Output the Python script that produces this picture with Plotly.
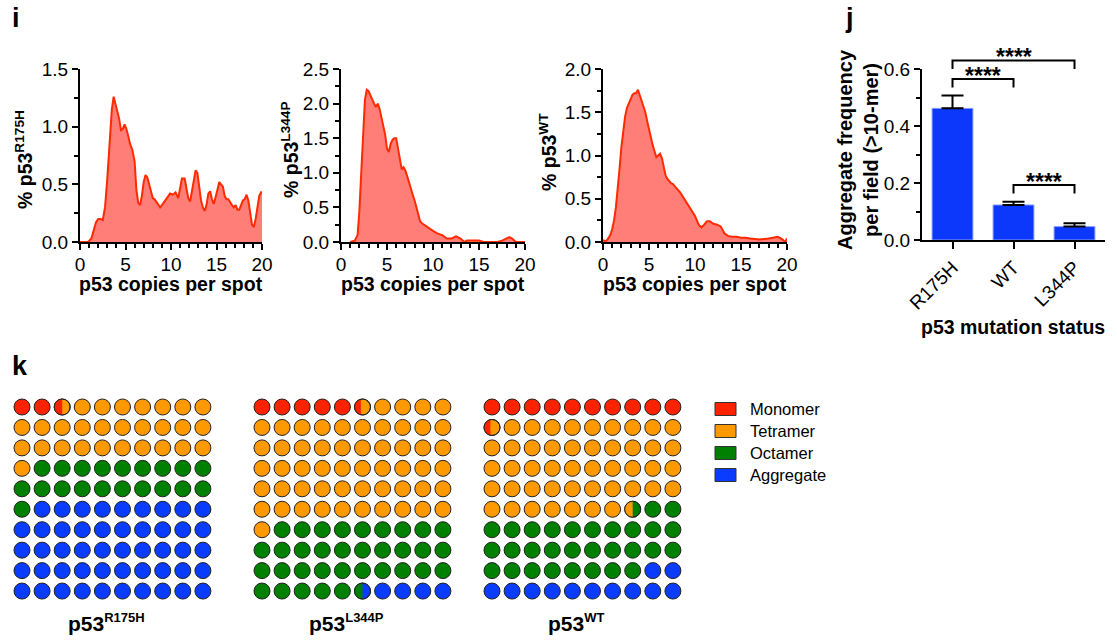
import numpy as np
import plotly.graph_objects as go

W, H = 1117, 640
FONT = "Liberation Sans, Arial, Helvetica, sans-serif"

# ---------------- DATA ----------------
# Histogram p53 R175H
r175h_x = [0, 0.9, 1.0, 1.25, 1.5, 1.75, 2.0, 2.25, 2.5, 2.75, 3.0, 3.25, 3.5, 3.7, 3.9, 4.1, 4.3, 4.5, 4.7, 4.9,
           5.1, 5.3, 5.5, 5.75, 6.0, 6.2, 6.4, 6.6, 6.8, 7.0, 7.2, 7.4, 7.6, 7.8, 8.0, 8.2, 8.4, 8.6, 8.8, 9.0,
           9.3, 9.6, 9.9, 10.2, 10.5, 10.8, 11.0, 11.2, 11.5, 11.7, 11.9, 12.1, 12.3, 12.5, 12.7, 12.9, 13.1, 13.3,
           13.5, 13.7, 13.9, 14.1, 14.3, 14.5, 14.7, 14.9, 15.1, 15.3, 15.5, 15.7, 15.9, 16.1, 16.3, 16.5, 16.7,
           16.9, 17.1, 17.3, 17.5, 17.7, 17.9, 18.1, 18.3, 18.5, 18.7, 18.9, 19.1, 19.3, 19.5, 19.7, 19.9, 20.0]
r175h_y = [0, 0.0, 0.01, 0.03, 0.10, 0.17, 0.20, 0.20, 0.19, 0.30, 0.55, 0.85, 1.15, 1.26, 1.20, 1.12, 1.07, 0.97, 0.98, 1.02,
           0.98, 0.92, 0.85, 0.80, 0.70, 0.45, 0.34, 0.32, 0.40, 0.52, 0.58, 0.56, 0.50, 0.45, 0.38, 0.37, 0.35, 0.33, 0.30, 0.32,
           0.35, 0.38, 0.42, 0.41, 0.43, 0.38, 0.48, 0.55, 0.55, 0.46, 0.38, 0.35, 0.45, 0.55, 0.62, 0.60, 0.48, 0.36,
           0.30, 0.27, 0.32, 0.42, 0.44, 0.37, 0.33, 0.38, 0.45, 0.52, 0.50, 0.48, 0.40, 0.37, 0.37, 0.34, 0.32,
           0.30, 0.32, 0.28, 0.28, 0.32, 0.36, 0.37, 0.41, 0.36, 0.27, 0.15, 0.13, 0.20, 0.30, 0.40, 0.43, 0.42]

# Histogram p53 L344P
l344p_x = [1.0, 1.5, 1.8, 2.0, 2.2, 2.4, 2.6, 2.8, 3.0, 3.2, 3.4, 3.6, 3.8, 4.0, 4.2, 4.4, 4.6, 4.8, 5.0, 5.2,
           5.4, 5.6, 5.8, 6.0, 6.2, 6.4, 6.6, 6.8, 7.0, 7.2, 7.4, 7.6, 7.8, 8.0, 8.2, 8.4, 8.6, 8.8, 9.0, 9.5,
           10.0, 10.5, 11.0, 11.5, 12.0, 12.5, 13.0, 13.4, 13.7, 14.0, 15.0, 15.5, 17.0, 17.5, 18.0, 18.3, 18.6,
           19.0, 20.0]
l344p_y = [0.0, 0.02, 0.10, 0.45, 1.00, 1.60, 2.05, 2.20, 2.18, 2.12, 2.05, 2.00, 1.95, 2.00, 1.92, 1.80, 1.72, 1.55, 1.35, 1.30,
           1.42, 1.48, 1.50, 1.50, 1.35, 1.20, 1.05, 1.08, 1.03, 0.95, 0.85, 0.78, 0.68, 0.60, 0.50, 0.40, 0.30, 0.27, 0.25, 0.20,
           0.16, 0.12, 0.10, 0.05, 0.05, 0.08, 0.05, 0.0, 0.02, 0.02, 0.02, 0.0, 0.0, 0.02, 0.05, 0.07, 0.05,
           0.0, 0.0]

# Histogram p53 WT
wt_x = [0, 0.3, 0.5, 0.8, 1.0, 1.2, 1.4, 1.6, 1.8, 2.0, 2.2, 2.4, 2.6, 2.8, 3.0, 3.2, 3.4, 3.6, 3.8, 4.0,
        4.2, 4.4, 4.6, 4.8, 5.0, 5.2, 5.4, 5.6, 5.8, 6.0, 6.2, 6.4, 6.6, 6.8, 7.0, 7.2, 7.4, 7.6, 7.8, 8.0,
        8.4, 8.8, 9.2, 9.6, 10.0, 10.4, 10.7, 11.0, 11.3, 11.6, 12.0, 12.4, 12.8, 13.2, 13.6, 14.0, 14.5, 15.0,
        15.5, 16.0, 17.0, 18.0, 18.5, 19.0, 19.5, 19.8, 20.0]
wt_y = [0.02, 0.01, 0.03, 0.08, 0.15, 0.25, 0.40, 0.60, 0.85, 1.10, 1.30, 1.45, 1.55, 1.60, 1.65, 1.70, 1.72, 1.72, 1.76, 1.70,
        1.62, 1.58, 1.50, 1.40, 1.30, 1.20, 1.12, 1.05, 0.98, 1.00, 1.02, 0.97, 0.85, 0.77, 0.73, 0.70, 0.68, 0.67, 0.65, 0.62,
        0.57, 0.50, 0.43, 0.37, 0.30, 0.20, 0.17, 0.20, 0.24, 0.24, 0.21, 0.20, 0.18, 0.10, 0.07, 0.06, 0.06, 0.05,
        0.05, 0.04, 0.03, 0.04, 0.05, 0.06, 0.03, 0.0, 0.04]

# Bar chart
bar_categories = ["R175H", "WT", "L344P"]
bar_values = [0.462, 0.123, 0.047]
bar_errors = [0.045, 0.011, 0.012]
# significance brackets: (from category, to category, level)
sig_pairs = [("R175H", "L344P", 0.630), ("R175H", "WT", 0.565), ("WT", "L344P", 0.193)]
sig_labels = ["****", "****", "****"]

# Waffle charts (percent of spots per oligomer class)
class_names = ["Monomer", "Tetramer", "Octamer", "Aggregate"]
r175h_pct = [2.5, 28.5, 20.0, 49.0]
l344p_pct = [5.4, 55.6, 34.5, 4.5]
wt_pct = [10.4, 47.1, 30.5, 12.0]
waffle_names = ["R175H", "L344P", "WT"]

# ---------------- STYLE ----------------
class_colors = ["#FF2200", "#FF9900", "#008000", "#0A3CFF"]
LINE_RED = "#FF2A00"
FILL_RED = "#FF7F78"
BAR_BLUE = "#0B38FA"


def xd(a, b):
    return [a / W, b / W]


def yd(top, bottom):
    return [1 - bottom / H, 1 - top / H]


def px(x):
    return x / W


def py(y):
    return 1 - y / H


fig = go.Figure()
layout = dict(
    template="none",
    width=W, height=H, autosize=False, margin=dict(l=0, r=0, t=0, b=0, pad=0),
    paper_bgcolor="white", plot_bgcolor="white", showlegend=False,
    font=dict(family=FONT, color="black"),
)

ann = []
shapes = []

TICKF = dict(family=FONT, size=19, color="black")

def hist_axes(xdom, ydom, ymax):
    xa = dict(domain=xdom, range=[0, 20], showgrid=False, zeroline=False, automargin=False,
              showline=True, linecolor="black", linewidth=2, ticks="outside", ticklen=6, tickwidth=2,
              tickcolor="black", tickvals=[0, 5, 10, 15, 20], tickfont=TICKF, fixedrange=True,
              ticklabelstandoff=-2,
              minor=dict(dtick=1, ticks="outside", ticklen=4, tickwidth=2, tickcolor="black", showgrid=False))
    ya = dict(domain=ydom, range=[0, ymax], showgrid=False, zeroline=False, automargin=False,
              showline=True, linecolor="black", linewidth=2, ticks="outside", ticklen=6, tickwidth=2,
              tickcolor="black", dtick=0.5, tickformat=".1f", tickfont=TICKF, fixedrange=True,
              minor=dict(dtick=0.25, ticks="outside", ticklen=4, tickwidth=2, tickcolor="black", showgrid=False))
    return xa, ya

hists = [
    (r175h_x, r175h_y, "xaxis", "yaxis", "x", "y", (80, 262), 1.5, "R175H", 24, 160),
    (l344p_x, l344p_y, "xaxis2", "yaxis2", "x2", "y2", (341, 525), 2.5, "L344P", 290, 150),
    (wt_x, wt_y, "xaxis3", "yaxis3", "x3", "y3", (603, 787), 2.0, "WT", 548, 152),
]
for xs, ys, xn, yn, xr, yr, (xa0, xa1), ymax, variant, tx, ty in hists:
    xa, ya = hist_axes(xd(xa0, xa1), yd(69, 242), ymax)
    xa["anchor"] = yr
    ya["anchor"] = xr
    layout[xn] = xa
    layout[yn] = ya
    fig.add_trace(go.Scatter(x=xs, y=ys, xaxis=xr, yaxis=yr, mode="lines", fill="tozeroy",
                             fillcolor=FILL_RED, line=dict(color=LINE_RED, width=2), hoverinfo="skip"))
    ann.append(dict(text="<b>p53 copies per spot</b>", x=px((xa0 + xa1) / 2), y=py(284), xref="paper",
                    yref="paper", showarrow=False, xanchor="center", yanchor="middle",
                    font=dict(size=19.5, family=FONT)))
    ann.append(dict(text="<b>% p53<sup>" + variant + "</sup></b>", x=px(tx), y=py(ty), xref="paper",
                    yref="paper", showarrow=False, textangle=-90, xanchor="center", yanchor="middle",
                    font=dict(size=19.5, family=FONT)))

# ---- bar chart ----
BAR_Y0, BAR_Y1 = 69, 240
layout["xaxis4"] = dict(domain=xd(922, 1105), anchor="y4", type="category", range=[-0.5, 2.5],
                        showgrid=False, zeroline=False, showline=True, linecolor="black", linewidth=2,
                        ticks="outside", ticklen=7, tickwidth=2, tickcolor="black", tickangle=-45,
                        tickfont=TICKF, fixedrange=True, automargin=False)
layout["yaxis4"] = dict(domain=yd(BAR_Y0, BAR_Y1), anchor="x4", range=[0, 0.6], showgrid=False, zeroline=False,
                        showline=True, linecolor="black", linewidth=2, ticks="outside", ticklen=6, tickwidth=2,
                        tickcolor="black", tickvals=[0, 0.2, 0.4, 0.6], tickformat=".1f", tickfont=TICKF,
                        fixedrange=True, automargin=False,
                        minor=dict(dtick=0.1, ticks="outside", ticklen=4, tickwidth=2, tickcolor="black",
                                   showgrid=False))
fig.add_trace(go.Bar(x=bar_categories, y=bar_values, xaxis="x4", yaxis="y4", width=0.67,
                     marker=dict(color=BAR_BLUE, line=dict(color="#8EA2FF", width=1)),
                     error_y=dict(type="data", symmetric=False, array=bar_errors,
                                  arrayminus=[0] * len(bar_errors), thickness=2, width=11, color="black"),
                     hoverinfo="skip"))


def bar_py(v):
    d0, d1 = yd(BAR_Y0, BAR_Y1)
    return d0 + v / 0.6 * (d1 - d0)


drop = 0.03
for (a, b, lvl), lab in zip(sig_pairs, sig_labels):
    i0, i1 = bar_categories.index(a), bar_categories.index(b)
    pts = [(i0, lvl - drop), (i0, lvl), (i1, lvl), (i1, lvl - drop)]
    path = "M " + " L ".join(f"{x},{bar_py(y)}" for x, y in pts)
    shapes.append(dict(type="path", xref="x4", yref="paper", path=path,
                       line=dict(color="black", width=2)))
    ann.append(dict(text="<b>" + lab + "</b>", x=(i0 + i1) / 2, y=bar_py(lvl), xref="x4", yref="paper",
                    showarrow=False, xanchor="center", yanchor="middle", yshift=3,
                    font=dict(size=23, family=FONT)))

ann.append(dict(text="<b>Aggregate frequency<br>per field (>10-mer)</b>", x=px(858), y=py(150), xref="paper",
                yref="paper", showarrow=False, textangle=-90, xanchor="center", yanchor="middle",
                font=dict(size=20, family=FONT)))
ann.append(dict(text="<b>p53 mutation status</b>", x=px(1013), y=py(327), xref="paper", yref="paper",
                showarrow=False, xanchor="center", yanchor="middle", font=dict(size=19.5, family=FONT)))

# ---- waffles ----
CELL_X, CELL_Y = 20.1, 20.45
W_TOP = 407
R_PX = 8.0
waffle_left = [22, 262, 492]
waffle_data = [r175h_pct, l344p_pct, wt_pct]

for k, (pcts, left, variant) in enumerate(zip(waffle_data, waffle_left, waffle_names)):
    n = k + 5
    xn, yn, xr, yr = f"xaxis{n}", f"yaxis{n}", f"x{n}", f"y{n}"
    layout[xn] = dict(domain=xd(left - CELL_X / 2, left + 9 * CELL_X + CELL_X / 2), anchor=yr,
                      range=[-0.5, 9.5], visible=False, fixedrange=True, automargin=False)
    layout[yn] = dict(domain=yd(W_TOP - CELL_Y / 2, W_TOP + 9 * CELL_Y + CELL_Y / 2), anchor=xr,
                      range=[9.5, -0.5], visible=False, fixedrange=True, automargin=False)
    cum = np.cumsum(pcts)
    cols, rows, colors = [], [], []
    partial = []
    for i in range(100):
        c_left = int(np.searchsorted(cum, i + 1e-6, side="left"))
        c_right = int(np.searchsorted(cum, i + 1 - 1e-6, side="left"))
        r, c = divmod(i, 10)
        cols.append(c)
        rows.append(r)
        colors.append(class_colors[c_right])
        if c_left != c_right:
            partial.append((c, r, cum[c_left] - i, class_colors[c_left]))
    fig.add_trace(go.Scatter(x=cols, y=rows, xaxis=xr, yaxis=yr, mode="markers",
                             marker=dict(size=16, color=colors, line=dict(color="#222222", width=1)),
                             hoverinfo="skip"))
    rx, ry = R_PX / CELL_X, R_PX / CELL_Y
    for c, r, frac, col in partial:
        d = 2 * frac - 1
        th0 = np.arccos(np.clip(d, -1, 1))
        th = np.linspace(th0, 2 * np.pi - th0, 60)
        fig.add_trace(go.Scatter(x=c + rx * np.cos(th), y=r + ry * np.sin(th), xaxis=xr, yaxis=yr,
                                 mode="lines", fill="toself", fillcolor=col, line=dict(width=0, color=col),
                                 hoverinfo="skip"))
        fig.add_trace(go.Scatter(x=[c], y=[r], xaxis=xr, yaxis=yr, mode="markers",
                                 marker=dict(size=16, color="rgba(0,0,0,0)", line=dict(color="#222222", width=1)),
                                 hoverinfo="skip"))
    ann.append(dict(text="<b>p53<sup><span style='font-size:13px'>" + variant + "</span></sup></b>",
                    x=px(left + 4.5 * CELL_X - 6), y=py(622), xref="paper",
                    yref="paper", showarrow=False, xanchor="center", yanchor="middle",
                    font=dict(size=21, family=FONT)))

# legend (drawn)
for j, (name, col) in enumerate(zip(class_names, class_colors)):
    yc = 409 + 22 * j
    shapes.append(dict(type="rect", xref="paper", yref="paper", x0=px(715), x1=px(736),
                       y0=py(yc + 6.5), y1=py(yc - 6.5), fillcolor=col, line=dict(color="#333333", width=1)))
    ann.append(dict(text=name, x=px(748), y=py(yc), xref="paper", yref="paper", showarrow=False,
                    xanchor="left", yanchor="middle", font=dict(size=16.5, family=FONT)))

# panel letters
for letter, lx, ly in [("i", 10, 18), ("j", 843, 18), ("k", 10, 366)]:
    ann.append(dict(text="<b>" + letter + "</b>", x=px(lx), y=py(ly), xref="paper", yref="paper",
                    showarrow=False, xanchor="left", yanchor="middle", font=dict(size=27, family=FONT)))

layout["annotations"] = ann
layout["shapes"] = shapes
fig.update_layout(**layout)
fig.write_html("out.html", config={"displayModeBar": False},
               post_script="document.body.style.margin='0';document.body.style.overflow='hidden';")
